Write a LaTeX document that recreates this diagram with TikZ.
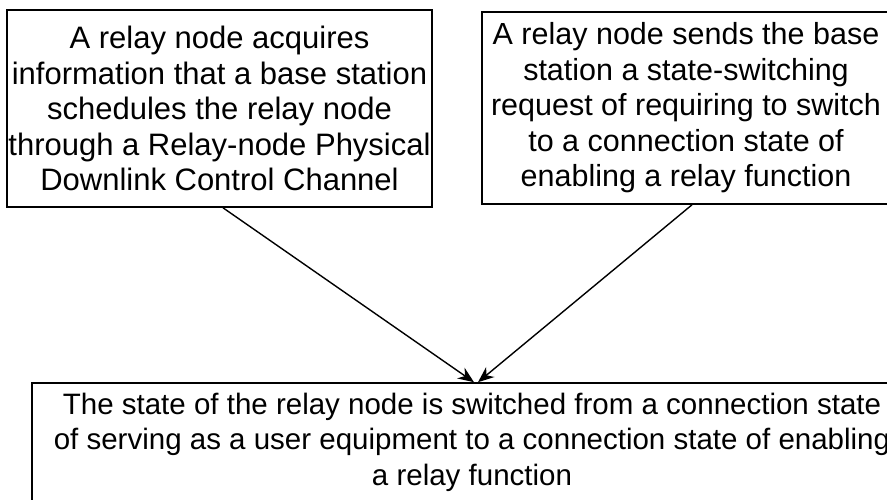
\documentclass[tikz,border=0pt]{standalone}
\usepackage{fontspec}
\setmainfont{Liberation Sans}
\usetikzlibrary{arrows.meta}
\begin{document}
\begin{tikzpicture}[x=1pt,y=-1pt,
  box/.style={draw, line width=1.6pt, align=center, inner sep=0pt,
    font=\fontsize{31}{35.5}\selectfont},
  link/.style={line width=1.4pt, -{Stealth[length=16pt,width=13pt]}}]
\clip (0,0) rectangle (887,500);
\useasboundingbox (0,0) rectangle (887,500);
\fill[white] (0,0) rectangle (887,500);
\node[box, minimum width=425pt, minimum height=197pt] (tl) at (219.5,108.5)
  {A relay node acquires\\information that a base station\\schedules the relay node\\through a Relay-node Physical\\Downlink Control Channel};
\node[box, minimum width=408pt, minimum height=192pt, font=\fontsize{30.5}{35.5}\selectfont] (tr) at (686,108)
  {A relay node sends the base\\station a state-switching\\request of requiring to switch\\to a connection state of\\enabling a relay function};
\node[box, minimum width=880pt, minimum height=118pt, font=\fontsize{29.5}{35.5}\selectfont] (bt) at (472,442)
  {The state of the relay node is switched from a connection state\\of serving as a user equipment to a connection state of enabling\\a relay function};
\draw[link] ([xshift=3.5pt]tl.south) -- ([xshift=2pt]bt.north);
\draw[link] ([xshift=6pt]tr.south) -- ([xshift=6pt]bt.north);
\end{tikzpicture}
\end{document}
